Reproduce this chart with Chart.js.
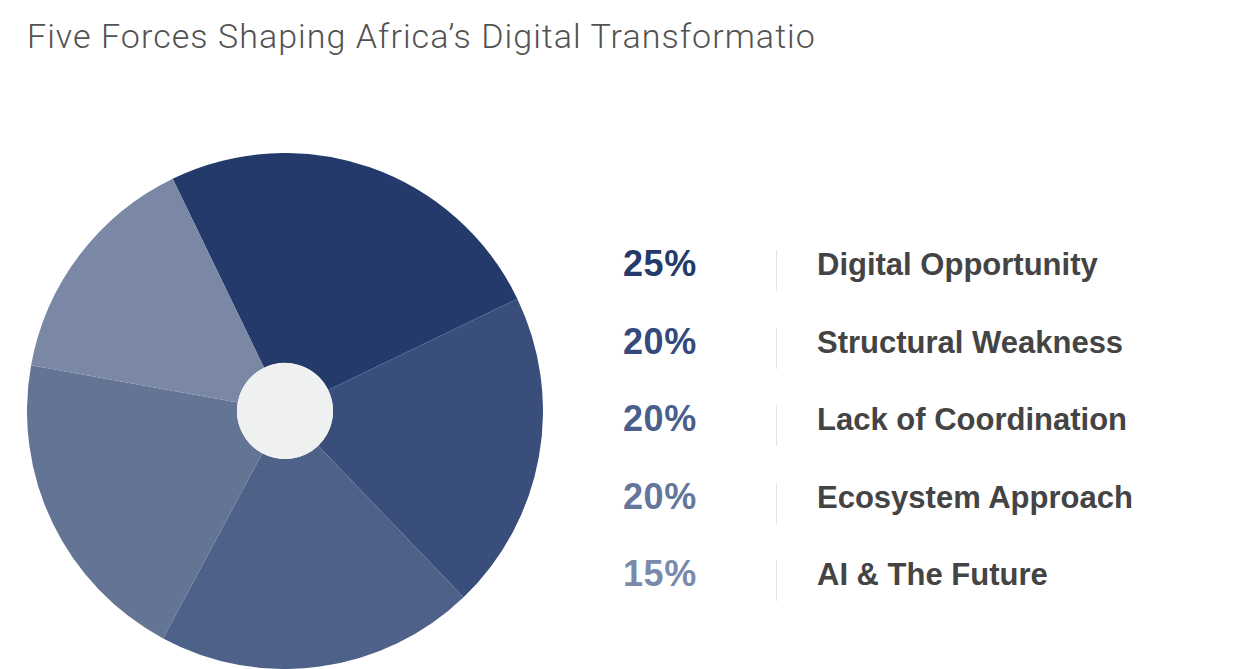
<!DOCTYPE html>
<html>
<head>
<meta charset="utf-8">
<script src="https://cdn.jsdelivr.net/npm/chart.js@4.4.1/dist/chart.umd.min.js"></script>
<style>
  html, body { margin: 0; padding: 0; background: #fff; }
  body { width: 1234px; height: 669px; position: relative; overflow: hidden; font-family: "Liberation Sans", Arial, sans-serif; }
  .title { position: absolute; left: 27px; top: 16px; font-family: Roboto, sans-serif; font-weight: 300; font-size: 34px; letter-spacing: 1.05px; color: #525252; white-space: nowrap; }
  .pie_box { position: absolute; left: 27px; top: 153px; width: 516px; height: 516px; }
  .legend { position: absolute; left: 623px; top: 0; }
  .row { position: absolute; left: 0; height: 42px; white-space: nowrap; }
  .pct { position: absolute; left: 0; top: -7px; font-weight: bold; font-size: 36px; letter-spacing: 0.6px; line-height: 42px; }
  .sep { position: absolute; left: 153px; top: 0; width: 1px; height: 41px; background: #e4e4e4; }
  .lbl { position: absolute; left: 194px; top: -6px; font-weight: bold; font-size: 31px; color: #444; line-height: 42px; }
</style>
</head>
<body>
<div class="title" id="title"></div>
<div class="pie_box"><canvas id="myChart"></canvas></div>
<div class="legend" id="legend"></div>
<script>
const chartTitle = "Five Forces Shaping Africa\u2019s Digital Transformatio";
const labels = ["Digital Opportunity", "Structural Weakness", "Lack of Coordination", "Ecosystem Approach", "AI & The Future"];
const shares = [25, 20, 20, 20, 15];
const colors = ["#233a6b", "#3a4e7b", "#4e6188", "#647495", "#7a88a5"];
const textColors = ["#233a6b", "#34497c", "#4b5f8b", "#64779b", "#7a8aab"];

document.getElementById("title").textContent = chartTitle;

// legend on the right, one row per slice
const legend = document.getElementById("legend");
const rowTops = [250, 328, 405, 483, 560];
labels.forEach((name, i) => {
  const row = document.createElement("div");
  row.setAttribute("class", "row");
  row.style.top = rowTops[i] + "px";
  const pct = document.createElement("div");
  pct.setAttribute("class", "pct");
  pct.style.color = textColors[i];
  pct.textContent = shares[i] + "%";
  const sep = document.createElement("div");
  sep.setAttribute("class", "sep");
  const lbl = document.createElement("div");
  lbl.setAttribute("class", "lbl");
  lbl.textContent = name;
  row.appendChild(pct);
  row.appendChild(sep);
  row.appendChild(lbl);
  legend.appendChild(row);
});

// light disc in the middle of the pie
const centerDisc = {
  id: "centerDisc",
  afterDatasetsDraw(chart) {
    const arc = chart.getDatasetMeta(0).data[0];
    if (!arc) return;
    const ctx = chart.ctx;
    ctx.save();
    ctx.beginPath();
    ctx.arc(arc.x, arc.y, arc.innerRadius, 0, Math.PI * 2);
    ctx.fillStyle = "#eff1f0";
    ctx.fill();
    ctx.restore();
  }
};

new Chart(document.getElementById("myChart"), {
  type: "doughnut",
  data: {
    labels: labels,
    datasets: [{ data: shares, backgroundColor: colors, borderWidth: 0 }]
  },
  options: {
    responsive: true,
    maintainAspectRatio: false,
    animation: false,
    rotation: -25.8,
    cutout: 48,
    layout: { padding: 0 },
    plugins: { legend: { display: false }, tooltip: { enabled: false }, title: { display: false } }
  },
  plugins: [centerDisc]
});
</script>
</body>
</html>
